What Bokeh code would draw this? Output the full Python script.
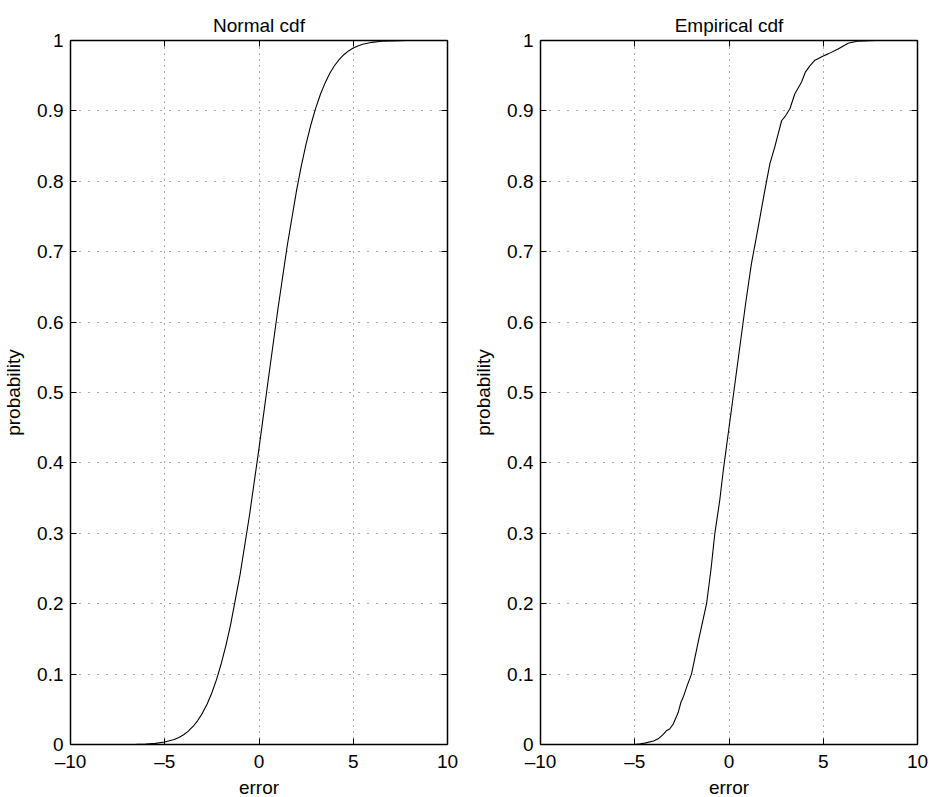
from bokeh.plotting import figure
from bokeh.layouts import row
from bokeh.models import LinearAxis, FixedTicker, Range1d
from bokeh.embed import file_html
from bokeh.resources import INLINE

# ---- data ----
x_ticks = [-10, -5, 0, 5, 10]
x_tick_labels = ["\u201310", "\u20135", "0", "5", "10"]
y_ticks = [0, 0.1, 0.2, 0.3, 0.4, 0.5, 0.6, 0.7, 0.8, 0.9, 1.0]
y_tick_labels = ["0", "0.1", "0.2", "0.3", "0.4", "0.5", "0.6", "0.7", "0.8", "0.9", "1"]

normal_x = [-6.5, -6.0, -5.5, -5.0, -4.5, -4.25, -4.0, -3.75, -3.5, -3.25, -3.0, -2.75,
            -2.5, -2.25, -2.0, -1.75, -1.5, -1.0, -0.5, 0.0, 0.5, 1.0, 1.5, 2.0, 2.25,
            2.5, 2.75, 3.0, 3.25, 3.5, 3.75, 4.0, 4.25, 4.5, 4.75, 5.0, 5.25, 5.5, 6.0,
            6.5, 7.0, 7.5, 7.8]
normal_p = [0.0003, 0.0007, 0.0016, 0.0035, 0.0071, 0.0100, 0.0139, 0.0190, 0.0256,
            0.0340, 0.0446, 0.0576, 0.0735, 0.0926, 0.1151, 0.1412, 0.1711, 0.2420,
            0.3264, 0.4207, 0.5199, 0.6179, 0.7088, 0.7881, 0.8225, 0.8531, 0.8800,
            0.9032, 0.9229, 0.9394, 0.9530, 0.9641, 0.9729, 0.9798, 0.9852, 0.9893,
            0.9923, 0.9946, 0.9974, 0.9989, 0.9995, 0.9998, 0.9999]

emp_x = [-6.5, -5.0, -4.7, -4.47, -4.0, -3.76, -3.5, -3.3, -3.15, -2.96, -2.7, -2.55,
         -2.43, -2.2, -1.99, -1.6, -1.19, -0.95, -0.75, -0.49, -0.3, 0.0, 0.3, 0.6,
         0.9, 1.19, 1.55, 1.9, 2.17, 2.43, 2.79, 3.0, 3.23, 3.49, 3.85, 4.05, 4.29,
         4.56, 5.0, 5.26, 5.79, 6.32, 6.8, 7.8]
emp_p = [0.0, 0.0, 0.001, 0.002, 0.005, 0.008, 0.014, 0.02, 0.022, 0.029, 0.045, 0.06,
         0.067, 0.085, 0.1, 0.15, 0.2, 0.25, 0.3, 0.347, 0.39, 0.45, 0.51, 0.57,
         0.63, 0.683, 0.735, 0.787, 0.825, 0.849, 0.886, 0.893, 0.903, 0.924, 0.941,
         0.955, 0.964, 0.972, 0.978, 0.981, 0.988, 0.996, 0.999, 1.0]

FONT = "Liberation Sans"
FS = "19px"


def style_axis(ax, ticks):
    ax.ticker = FixedTicker(ticks=ticks)
    ax.major_tick_in = 6
    ax.major_tick_out = 0
    ax.minor_tick_line_color = None
    ax.major_tick_line_color = "black"
    ax.major_tick_line_width = 1
    ax.axis_line_color = "black"
    ax.axis_line_width = 1.5
    ax.major_label_text_font = FONT
    ax.major_label_text_font_size = FS
    ax.major_label_text_color = "black"
    ax.axis_label_text_font = FONT
    ax.axis_label_text_font_size = FS
    ax.axis_label_text_font_style = "normal"
    ax.axis_label_text_color = "black"


def make(title, xs, ys, left_border):
    p = figure(frame_width=377, frame_height=704,
               x_range=Range1d(-10, 10), y_range=Range1d(0, 1),
               output_backend="svg", toolbar_location=None,
               min_border_left=left_border, min_border_right=13,
               min_border_top=40, min_border_bottom=53,
               title=title)
    p.title.align = "center"
    p.title.text_font = FONT
    p.title.text_font_size = FS
    p.title.text_font_style = "normal"
    p.title.text_color = "black"
    p.outline_line_color = None
    p.background_fill_color = "white"
    p.border_fill_color = "white"

    xa = p.xaxis[0]
    ya = p.yaxis[0]
    style_axis(xa, x_ticks)
    style_axis(ya, y_ticks)
    xa.major_label_overrides = dict(zip(x_ticks, x_tick_labels))
    ya.major_label_overrides = dict(zip(y_ticks, y_tick_labels))
    xa.axis_label = "error"
    ya.axis_label = "probability"
    xa.major_label_standoff = 6
    ya.major_label_standoff = 7
    xa.axis_label_standoff = 2
    ya.axis_label_standoff = 10

    top = LinearAxis()
    style_axis(top, x_ticks)
    top.major_label_overrides = {t: "" for t in x_ticks}
    top.major_label_standoff = 0
    p.add_layout(top, "above")
    rt = LinearAxis()
    style_axis(rt, y_ticks)
    rt.major_label_overrides = {t: "" for t in y_ticks}
    rt.major_label_standoff = 0
    p.add_layout(rt, "right")

    for g, dash in ((p.xgrid[0], "1 5"), (p.ygrid[0], "1 8")):
        g.grid_line_color = "#555555"
        g.grid_line_dash = dash
        g.grid_line_width = 1

    p.xgrid[0].ticker = FixedTicker(ticks=x_ticks)
    p.ygrid[0].ticker = FixedTicker(ticks=y_ticks)

    p.line(xs, ys, line_color="black", line_width=1.1)
    return p


p1 = make("Normal cdf", normal_x, normal_p, 69)
p2 = make("Empirical cdf", emp_x, emp_p, 80)
layout = row(p1, p2)

open("out.html", "w").write(file_html(layout, INLINE))
